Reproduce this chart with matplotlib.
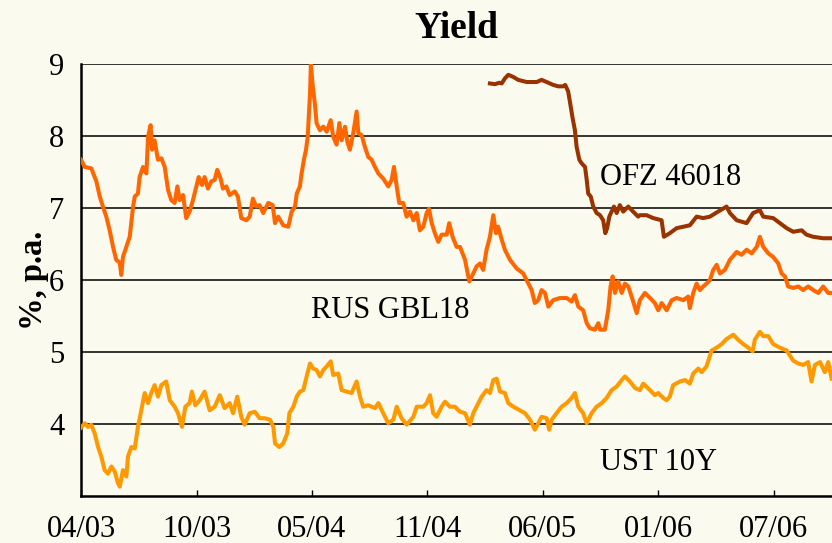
import numpy as np
import pandas as pd
import matplotlib
matplotlib.use('Agg')
import matplotlib.pyplot as plt

plt.rcParams['font.family'] = ['Liberation Serif', 'DejaVu Serif']

# dates as decimal years, yields in % p.a.
rus_t = [2003.271, 2003.289, 2003.320, 2003.344, 2003.360, 2003.375, 2003.391, 2003.407, 2003.423, 2003.438,
         2003.455, 2003.462, 2003.470, 2003.486, 2003.502, 2003.518, 2003.526, 2003.541, 2003.549, 2003.565,
         2003.581, 2003.589, 2003.601, 2003.608, 2003.620, 2003.636, 2003.652, 2003.668, 2003.684, 2003.699,
         2003.715, 2003.728, 2003.739, 2003.755, 2003.770, 2003.786, 2003.802, 2003.818, 2003.829, 2003.845,
         2003.857, 2003.873, 2003.889, 2003.905, 2003.917, 2003.933, 2003.944, 2003.960, 2003.976, 2004.000,
         2004.015, 2004.031, 2004.055, 2004.071, 2004.086, 2004.102, 2004.118, 2004.135, 2004.159, 2004.180,
         2004.191, 2004.206, 2004.230, 2004.254, 2004.270, 2004.286, 2004.294, 2004.309, 2004.317, 2004.328,
         2004.338, 2004.346, 2004.357, 2004.361, 2004.370, 2004.380, 2004.388, 2004.404, 2004.420, 2004.436,
         2004.455, 2004.467, 2004.483, 2004.496, 2004.507, 2004.523, 2004.534, 2004.546, 2004.562, 2004.578,
         2004.586, 2004.602, 2004.617, 2004.633, 2004.649, 2004.665, 2004.681, 2004.704, 2004.728, 2004.744,
         2004.755, 2004.768, 2004.780, 2004.799, 2004.815, 2004.831, 2004.847, 2004.863, 2004.878, 2004.894,
         2004.910, 2004.921, 2004.934, 2004.949, 2004.965, 2004.981, 2005.005, 2005.017, 2005.033, 2005.052,
         2005.068, 2005.092, 2005.112, 2005.131, 2005.147, 2005.163, 2005.178, 2005.194, 2005.210, 2005.226,
         2005.239, 2005.249, 2005.266, 2005.281, 2005.305, 2005.337, 2005.368, 2005.392, 2005.408, 2005.423,
         2005.439, 2005.455, 2005.471, 2005.487, 2005.510, 2005.542, 2005.574, 2005.597, 2005.613, 2005.629,
         2005.652, 2005.669, 2005.684, 2005.708, 2005.724, 2005.732, 2005.755, 2005.771, 2005.782, 2005.792,
         2005.803, 2005.818, 2005.835, 2005.850, 2005.866, 2005.882, 2005.906, 2005.921, 2005.945, 2005.969,
         2005.992, 2006.008, 2006.024, 2006.048, 2006.072, 2006.095, 2006.127, 2006.150, 2006.158, 2006.174,
         2006.190, 2006.206, 2006.221, 2006.237, 2006.253, 2006.269, 2006.285, 2006.301, 2006.324, 2006.348,
         2006.380, 2006.403, 2006.427, 2006.451, 2006.475, 2006.490, 2006.506, 2006.530, 2006.553, 2006.577,
         2006.593, 2006.609, 2006.624, 2006.648, 2006.672, 2006.695, 2006.719, 2006.743, 2006.767, 2006.790,
         2006.814, 2006.830]
rus_y = [7.67, 7.57, 7.55, 7.37, 7.16, 7.02, 6.88, 6.69, 6.46, 6.28,
         6.24, 6.07, 6.32, 6.46, 6.60, 7.02, 7.16, 7.20, 7.43, 7.57,
         7.48, 7.99, 8.15, 7.81, 7.94, 7.67, 7.69, 7.57, 7.25, 7.11,
         7.07, 7.30, 7.11, 7.18, 6.86, 6.95, 7.11, 7.30, 7.43, 7.32,
         7.43, 7.27, 7.37, 7.39, 7.53, 7.41, 7.27, 7.30, 7.18, 7.23,
         7.16, 6.86, 6.83, 6.88, 7.13, 7.02, 7.04, 6.93, 7.07, 7.04,
         6.79, 6.88, 6.76, 6.74, 6.95, 7.02, 7.20, 7.30, 7.48, 7.67,
         7.81, 7.99, 8.59, 8.99, 8.69, 8.45, 8.18, 8.08, 8.13, 8.06,
         8.22, 7.99, 7.88, 8.18, 7.94, 8.13, 7.92, 7.81, 8.04, 8.34,
         8.04, 8.01, 7.85, 7.71, 7.67, 7.57, 7.48, 7.41, 7.30, 7.39,
         7.57, 7.30, 7.07, 7.07, 6.88, 6.95, 6.83, 6.93, 6.69, 6.74,
         6.93, 6.99, 6.79, 6.65, 6.53, 6.63, 6.63, 6.79, 6.60, 6.46,
         6.46, 6.28, 5.98, 6.09, 6.19, 6.23, 6.14, 6.42, 6.60, 6.90,
         6.65, 6.74, 6.56, 6.42, 6.28, 6.16, 6.09, 5.95, 5.86, 5.68,
         5.72, 5.86, 5.82, 5.63, 5.72, 5.75, 5.75, 5.70, 5.79, 5.63,
         5.58, 5.40, 5.33, 5.31, 5.40, 5.31, 5.31, 5.58, 5.91, 6.05,
         5.82, 5.98, 5.82, 5.95, 5.91, 5.77, 5.54, 5.72, 5.82, 5.75,
         5.68, 5.58, 5.68, 5.58, 5.72, 5.75, 5.72, 5.77, 5.61, 5.82,
         5.95, 5.86, 5.91, 5.95, 6.00, 6.14, 6.21, 6.09, 6.14, 6.28,
         6.39, 6.35, 6.42, 6.37, 6.46, 6.60, 6.46, 6.37, 6.32, 6.23,
         6.09, 6.05, 5.91, 5.89, 5.91, 5.86, 5.91, 5.86, 5.82, 5.91,
         5.82, 5.82]

ofz_t = [2005.210, 2005.234, 2005.254, 2005.266, 2005.281, 2005.297, 2005.321, 2005.344, 2005.384, 2005.432,
         2005.455, 2005.479, 2005.510, 2005.534, 2005.558, 2005.567, 2005.581, 2005.593, 2005.602, 2005.613,
         2005.621, 2005.634, 2005.645, 2005.661, 2005.669, 2005.676, 2005.688, 2005.700, 2005.716, 2005.732,
         2005.747, 2005.757, 2005.766, 2005.776, 2005.787, 2005.798, 2005.811, 2005.826, 2005.842, 2005.866,
         2005.889, 2005.913, 2005.921, 2005.953, 2005.984, 2006.024, 2006.035, 2006.063, 2006.095, 2006.127,
         2006.158, 2006.190, 2006.221, 2006.253, 2006.292, 2006.332, 2006.348, 2006.380, 2006.427, 2006.458,
         2006.490, 2006.506, 2006.553, 2006.585, 2006.617, 2006.648, 2006.688, 2006.711, 2006.743, 2006.790,
         2006.830]
ofz_y = [8.73, 8.72, 8.74, 8.73, 8.80, 8.85, 8.82, 8.78, 8.75, 8.75,
         8.78, 8.75, 8.71, 8.69, 8.69, 8.71, 8.62, 8.41, 8.25, 8.08,
         7.85, 7.67, 7.62, 7.57, 7.39, 7.20, 7.16, 7.02, 6.93, 6.90,
         6.83, 6.65, 6.72, 6.88, 6.95, 7.02, 6.93, 7.04, 6.95, 7.02,
         6.95, 6.88, 6.90, 6.90, 6.86, 6.83, 6.60, 6.65, 6.72, 6.74,
         6.76, 6.88, 6.86, 6.88, 6.95, 7.02, 6.93, 6.83, 6.79, 6.93,
         6.97, 6.88, 6.86, 6.79, 6.72, 6.67, 6.69, 6.63, 6.60, 6.58,
         6.58]

ust_t = [2003.271, 2003.289, 2003.304, 2003.320, 2003.336, 2003.352, 2003.367, 2003.383, 2003.399, 2003.415,
         2003.431, 2003.446, 2003.455, 2003.470, 2003.486, 2003.494, 2003.510, 2003.526, 2003.541, 2003.557,
         2003.573, 2003.589, 2003.604, 2003.620, 2003.636, 2003.652, 2003.675, 2003.692, 2003.715, 2003.731,
         2003.750, 2003.766, 2003.786, 2003.797, 2003.813, 2003.834, 2003.857, 2003.881, 2003.905, 2003.929,
         2003.952, 2003.976, 2003.992, 2004.012, 2004.031, 2004.047, 2004.071, 2004.095, 2004.118, 2004.142,
         2004.167, 2004.183, 2004.191, 2004.211, 2004.230, 2004.249, 2004.259, 2004.278, 2004.294, 2004.309,
         2004.325, 2004.341, 2004.357, 2004.372, 2004.388, 2004.404, 2004.420, 2004.436, 2004.455, 2004.467,
         2004.491, 2004.507, 2004.531, 2004.554, 2004.578, 2004.594, 2004.609, 2004.633, 2004.665, 2004.681,
         2004.704, 2004.728, 2004.752, 2004.768, 2004.791, 2004.815, 2004.847, 2004.863, 2004.894, 2004.910,
         2004.926, 2004.941, 2004.957, 2004.981, 2004.997, 2005.020, 2005.044, 2005.068, 2005.092, 2005.115,
         2005.131, 2005.155, 2005.171, 2005.194, 2005.210, 2005.226, 2005.242, 2005.258, 2005.281, 2005.297,
         2005.321, 2005.352, 2005.376, 2005.400, 2005.423, 2005.439, 2005.455, 2005.479, 2005.491, 2005.503,
         2005.526, 2005.550, 2005.574, 2005.597, 2005.613, 2005.629, 2005.652, 2005.669, 2005.692, 2005.716,
         2005.740, 2005.763, 2005.787, 2005.811, 2005.835, 2005.850, 2005.874, 2005.898, 2005.921, 2005.937,
         2005.969, 2005.992, 2006.008, 2006.032, 2006.048, 2006.063, 2006.079, 2006.111, 2006.135, 2006.158,
         2006.174, 2006.198, 2006.214, 2006.237, 2006.261, 2006.285, 2006.309, 2006.332, 2006.364, 2006.387,
         2006.411, 2006.435, 2006.456, 2006.466, 2006.490, 2006.506, 2006.530, 2006.553, 2006.585, 2006.617,
         2006.648, 2006.672, 2006.695, 2006.719, 2006.735, 2006.751, 2006.775, 2006.798, 2006.814, 2006.830]
ust_y = [3.95, 4.01, 3.96, 3.99, 3.87, 3.68, 3.55, 3.36, 3.31, 3.41,
         3.34, 3.18, 3.13, 3.36, 3.27, 3.55, 3.68, 3.66, 3.96, 4.19,
         4.43, 4.29, 4.43, 4.54, 4.38, 4.54, 4.59, 4.33, 4.24, 4.15,
         3.96, 4.24, 4.29, 4.45, 4.26, 4.33, 4.45, 4.19, 4.24, 4.40,
         4.22, 4.29, 4.15, 4.38, 4.10, 3.99, 4.15, 4.17, 4.08, 4.08,
         4.06, 3.96, 3.73, 3.68, 3.73, 3.87, 4.15, 4.24, 4.38, 4.45,
         4.47, 4.66, 4.84, 4.77, 4.75, 4.66, 4.75, 4.80, 4.87, 4.68,
         4.70, 4.47, 4.45, 4.43, 4.59, 4.38, 4.24, 4.26, 4.22, 4.29,
         4.15, 4.01, 4.06, 4.24, 4.08, 3.99, 4.10, 4.24, 4.24, 4.29,
         4.40, 4.15, 4.10, 4.24, 4.31, 4.24, 4.24, 4.17, 4.15, 3.99,
         4.15, 4.29, 4.38, 4.47, 4.43, 4.61, 4.63, 4.45, 4.43, 4.29,
         4.24, 4.19, 4.15, 4.06, 3.92, 4.01, 4.10, 4.08, 3.92, 4.06,
         4.15, 4.24, 4.29, 4.36, 4.43, 4.24, 4.15, 4.01, 4.15, 4.24,
         4.29, 4.36, 4.47, 4.52, 4.61, 4.66, 4.59, 4.50, 4.47, 4.56,
         4.47, 4.40, 4.43, 4.36, 4.33, 4.38, 4.54, 4.59, 4.61, 4.56,
         4.70, 4.77, 4.72, 4.80, 5.02, 5.06, 5.11, 5.18, 5.24, 5.17,
         5.11, 5.06, 5.01, 5.17, 5.28, 5.22, 5.22, 5.11, 5.06, 5.02,
         4.88, 4.84, 4.82, 4.86, 4.59, 4.82, 4.86, 4.72, 4.86, 4.63]

tick_labels = ['04/03', '10/03', '05/04', '11/04', '06/05', '01/06', '07/06']
yticks = [4, 5, 6, 7, 8, 9]

# x ticks every 200 days from 10 Apr 2003
tick_dates = pd.Timestamp('2003-04-10') + pd.to_timedelta(np.arange(7) * 200, unit='D')
tick_pos = [d.year + (d.dayofyear - 1) / (366 if d.is_leap_year else 365) for d in tick_dates]

bg = '#FAFAEE'
fig = plt.figure(figsize=(8.32, 5.43), dpi=100, facecolor=bg)
ax = fig.add_axes([0.0974, 0.0866, 0.9026, 0.7955], facecolor=bg)

for v in yticks:
    ax.axhline(v, color='black', lw=1.1, zorder=1)

ax.plot(rus_t, rus_y, color='#FF6600', lw=2.9, zorder=3, solid_joinstyle='round')
ax.plot(ofz_t, ofz_y, color='#993300', lw=2.9, zorder=3, solid_joinstyle='round')
ax.plot(ust_t, ust_y, color='#FF9900', lw=2.9, zorder=3, solid_joinstyle='round')

ax.text(2005.732, 7.43, 'OFZ 46018', fontsize=22, va='center', ha='left')
ax.text(2004.361, 5.58, 'RUS GBL18', fontsize=22, va='center', ha='left')
ax.text(2005.732, 3.47, 'UST 10Y', fontsize=22, va='center', ha='left')

ax.set_xlim(tick_pos[0], 2006.832)
ax.set_ylim(3, 9)
ax.set_yticks(yticks)
ax.set_yticklabels([str(v) for v in yticks])
ax.set_xticks(tick_pos)
ax.set_xticklabels(tick_labels)
ax.tick_params(axis='y', length=0, pad=12, labelsize=22)
ax.tick_params(axis='x', direction='in', length=4, width=1, pad=14, labelsize=22)

for s in ['top', 'right']:
    ax.spines[s].set_visible(False)
for s in ['left', 'bottom']:
    ax.spines[s].set_linewidth(1.8)

ax.set_title('Yield', fontsize=27, fontweight='bold', pad=19)
ax.set_ylabel('%, p.a.', fontsize=23.5, fontweight='bold', labelpad=0)

fig.savefig('out.png', dpi=100, facecolor=bg)
